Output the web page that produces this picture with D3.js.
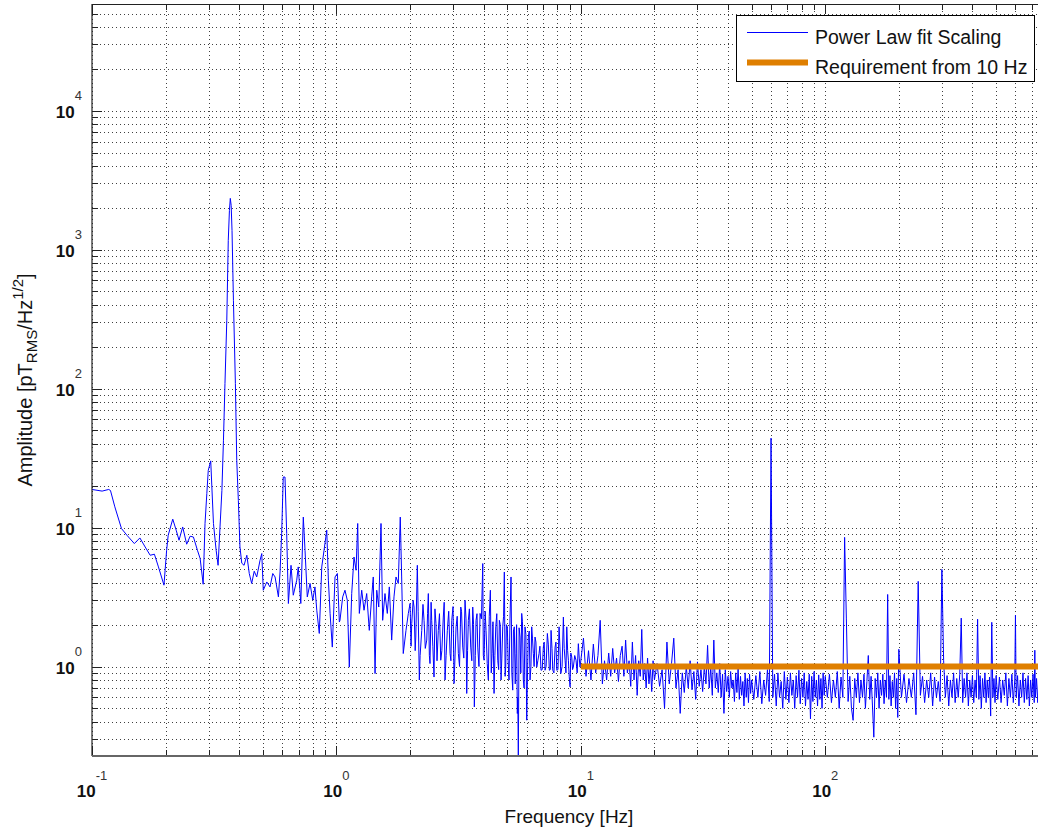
<!DOCTYPE html>
<html>
<head>
<meta charset="utf-8">
<script src="https://cdn.jsdelivr.net/npm/d3@7"></script>
<style>
  body { margin: 0; background: #fff; }
  text { font-family: "Liberation Sans", Arial, Helvetica, sans-serif; }
</style>
</head>
<body>
<div id="chart"></div>
<script>
// spectrum, 0.1 - 1 Hz
var lowFreq = [0.100,0.110,0.117,0.119,0.124,0.132,0.139,0.149,0.157,0.165,0.173,0.180,0.187,0.197,0.202,0.205,
  0.214,0.221,0.227,0.235,0.244,0.252,0.260,0.270,0.277,0.285,0.290,0.295,0.299,0.306,0.314,0.322,0.328,0.334,
  0.340,0.345,0.350,0.356,0.361,0.365,0.368,0.371,0.374,0.379,0.386,0.391,0.397,0.403,0.410,0.419,0.430,0.440,
  0.450,0.461,0.472,0.487,0.495,0.502,0.519,0.535,0.549,0.561,0.579,0.588,0.597,0.606,0.616,0.626,0.636,0.652,
  0.666,0.688,0.698,0.715,0.732,0.744,0.760,0.780,0.800,0.817,0.831,0.851,0.871,0.890,0.913,0.927,0.942,0.962,
  0.987,1.009,1.028];
var lowAmp = [18.8,18.3,18.8,18.5,14.1,9.84,8.80,7.67,8.42,7.25,6.32,6.43,5.21,3.85,6.87,8.80,
  11.5,9.57,8.11,10.1,7.59,8.66,8.55,6.87,5.98,3.91,10.7,17.6,25.8,30.2,10.7,6.87,5.35,10.1,
  18.5,42.5,109,310,1167,1918,2339,2084,1377,432,109,30.5,15.7,7.25,5.54,5.35,6.32,4.67,
  3.96,4.85,4.41,5.82,6.50,3.54,4.06,3.74,4.67,4.41,3.17,4.79,9.05,23.1,23.1,9.05,2.84,5.35,
  3.26,4.18,5.21,2.84,11.9,6.87,3.17,3.96,3.00,3.74,2.54,1.73,5.21,6.87,9.57,4.18,2.41,1.38,
  4.41,4.67,2.09];

// 1 - 10 Hz
var midFreq = [1.034,1.061,1.084,1.108,1.129,1.155,1.180,1.203,1.222,1.241,
  1.269,1.297,1.330,1.363,1.394,1.415,1.439,1.462,1.490,1.522,
  1.546,1.580,1.615,1.646,1.683,1.720,1.753,1.791,1.825,1.849,
  1.877,1.926,1.969,2.001,2.033,2.078,2.112,2.143,2.184,2.234,
  2.283,2.342,2.377,2.415,2.454,2.508,2.555,2.611,2.672,2.737,
  2.782,2.843,2.917,2.964,3.029,3.087,3.154,3.226,3.287,3.359,
  3.413,3.465,3.544,3.612,3.667,3.726,3.786,3.870,3.969,4.018,
  4.094,4.184,4.264,4.333,4.415,4.487,4.571,4.641,4.716,4.792,
  4.864,4.928,5.003,5.083,5.180,5.264,5.343,5.430,5.497,5.549,
  5.638,5.729,5.816,5.910,6.006,6.097,6.196,6.295,6.392,6.494,
  6.600,6.745,6.873,7.024,7.137,7.295,7.433,7.554,7.677,7.845,
  7.971,8.146,8.278,8.483,8.620,8.759,8.893,9.035,9.181,9.318,
  9.558,9.768,9.925];
var midAmp = [2.15,3.17,3.54,3.00,0.99,3.35,6.14,4.93,10.7,2.41,
  3.54,2.54,3.35,1.82,3.17,4.41,0.89,3.54,2.68,10.7,
  2.15,3.35,2.41,3.74,1.55,3.17,4.41,3.96,11.9,4.41,
  1.24,1.82,2.41,2.84,2.04,2.68,1.63,5.35,0.80,1.82,
  2.15,1.55,3.35,1.05,2.15,0.84,2.04,1.82,1.11,2.27,
  0.80,1.82,1.24,2.15,0.755,1.93,1.24,2.68,1.38,3.00,
  0.64,2.15,1.38,2.68,0.512,2.15,1.38,2.41,5.51,1.11,
  1.82,0.80,3.54,1.24,0.64,1.93,1.11,2.15,0.80,1.93,
  4.79,0.99,1.93,0.80,4.41,0.676,1.93,1.24,0.459,0.22,
  1.63,2.41,0.80,1.93,0.411,1.63,0.80,1.93,1.24,1.63,
  0.99,1.24,0.94,1.38,0.94,1.73,0.94,1.82,0.94,1.38,
  0.94,1.93,0.89,2.27,1.11,1.93,1.11,0.713,1.17,0.99,
  1.11,1.46,0.99];

// extra samples inside the dense 2 - 10 Hz band
var midFreq2 = [2.02,2.06,2.10,2.16,2.20,2.26,2.31,2.36,2.40,2.44,2.48,2.53,2.58,2.64,2.70,2.76,2.81,2.88,2.94,3.00,
  3.06,3.12,3.19,3.25,3.32,3.39,3.44,3.50,3.58,3.64,3.70,3.76,3.83,3.92,3.99,4.06,4.14,4.22,4.30,4.37,
  4.45,4.53,4.61,4.68,4.75,4.83,4.90,4.96,5.04,5.13,5.22,5.30,5.39,5.46,5.52,5.59,5.68,5.77,5.86,5.96,
  6.05,6.15,6.25,6.34,6.44,6.55,6.67,6.80,6.95,7.08,7.21,7.36,7.50,7.62,7.76,7.91,8.06,8.21,8.38,8.55,
  8.69,8.83,8.96,9.10,9.25,9.44,9.66,9.85];
var midAmp2 = [1.4,3.0,1.3,2.5,1.2,2.8,1.35,2.4,1.2,2.9,1.4,2.6,1.1,2.4,1.3,2.9,1.2,2.5,1.1,2.7,
  1.25,2.3,1.0,2.5,1.15,2.2,1.3,2.6,1.1,2.0,1.2,2.4,1.0,2.2,1.2,2.5,1.05,2.3,0.9,2.1,
  1.2,2.4,0.95,2.0,1.15,2.3,0.85,2.0,1.1,2.2,0.9,1.8,0.75,2.0,0.6,1.9,0.9,2.1,0.7,1.7,
  0.9,1.8,1.0,1.6,1.0,1.5,1.1,1.4,0.95,1.5,1.0,1.45,0.95,1.35,0.9,1.5,0.95,1.4,1.0,1.35,
  0.9,1.3,0.85,1.25,0.95,1.2,0.9,1.15];

// 10 - 800 Hz, mains harmonics show as spikes
var highFreq = [10.25,10.5,10.75,11,11.25,11.5,11.75,12,12.25,12.5,12.75,13,13.25,13.5,13.75,14,14.25,14.5,14.75,15,
  15.25,15.5,15.75,16,16.25,16.5,16.75,17,17.25,17.5,17.75,18,18.25,18.5,18.75,19,19.25,19.5,19.75,20,
  20.5,21,21.5,22,22.5,23,23.5,24,24.5,25,25.5,26,26.5,27,27.5,28,28.5,29,29.5,30,
  30.5,31,31.5,32,32.5,33,33.5,34,34.5,35,35.5,36,36.5,37,37.5,38,38.5,39,39.5,40,
  40.5,41,41.5,42,42.5,43,43.5,44,44.5,45,45.5,46,46.5,47,47.5,48,48.5,49,49.5,50,
  51,52,53,54,55,56,57,58,59,60,61,62,63,64,65,66,67,68,69,70,
  71,72,73,74,75,76,77,78,79,80,81,82,83,84,85,86,87,88,89,90,
  91,92,93,94,95,96,97,98,99,100,
  102,104,106,108,110,112,114,116,118,120,122,124,126,128,130,132,134,136,138,140,
  142,144,146,148,150,152,154,156,158,160,162,164,166,168,170,172,174,176,178,180,
  182,184,186,188,190,192,194,196,198,200,
  205,210,215,220,225,230,235,240,245,250,255,260,265,270,275,280,285,290,295,300,
  305,310,315,320,325,330,335,340,345,350,355,360,365,370,375,380,385,390,395,400,
  405,410,415,420,425,430,435,440,445,450,455,460,465,470,475,480,485,490,495,500,
  508,516,524,532,540,548,556,564,572,580,588,596,600,604,612,620,628,636,644,652,
  660,668,676,684,692,700,708,716,720,724,732,740,748,756,764,772,780,788,796];
var highAmp = [1.6,0.85,1.3,0.8,1.45,0.9,1.2,2.15,0.75,1.1,0.8,1.25,0.85,1.35,0.9,1.15,0.78,1.2,1.4,0.85,
  1.55,0.9,1.1,0.72,1.5,0.8,1.2,0.62,1.1,0.85,1.85,0.8,1.05,0.7,1.15,0.75,1.0,0.66,1.1,0.8,
  1.05,0.72,0.95,0.5,1.5,0.75,1.05,1.6,0.7,0.95,0.46,0.9,0.65,1.0,0.7,1.1,0.68,0.92,0.58,1.08,
  0.72,0.95,0.66,1.0,0.75,1.42,0.7,0.98,0.62,1.55,0.7,0.9,0.65,1.05,0.6,0.88,0.46,0.95,0.66,0.85,
  0.6,0.92,0.7,0.8,0.56,0.9,0.65,0.98,0.58,0.85,0.62,0.78,0.52,0.9,0.6,0.82,0.55,0.88,0.64,0.8,
  0.58,0.86,0.6,0.92,0.54,0.8,0.62,0.95,0.56,44,0.6,0.88,0.52,0.9,0.6,0.78,0.5,0.92,0.58,0.84,
  0.55,0.9,0.62,0.8,0.5,0.86,0.6,0.94,0.54,0.82,0.6,0.9,0.52,0.78,0.58,0.88,0.42,0.85,0.56,0.92,
  0.6,0.8,0.52,0.87,0.58,0.82,0.5,0.9,0.62,0.85,
  0.6,0.88,0.55,0.8,0.6,0.92,0.5,0.84,0.6,8.5,2.2,0.56,0.85,0.5,0.41,0.82,0.6,0.9,0.55,0.8,
  0.6,0.88,0.5,0.78,1.2,0.58,0.85,0.52,0.31,0.82,0.6,0.9,0.5,0.8,0.62,0.88,0.54,0.8,0.6,3.3,
  0.58,0.86,0.52,0.78,0.6,0.9,0.5,0.82,0.43,1.33,
  0.6,0.88,0.55,0.82,0.6,0.9,0.45,4.1,0.62,0.85,0.55,0.8,0.6,0.9,0.52,0.84,0.6,0.78,0.56,5.0,
  1.1,0.6,0.86,0.52,0.8,0.6,0.9,0.55,0.82,0.6,0.88,2.23,0.55,0.82,0.6,0.9,0.52,0.8,0.6,0.86,
  0.55,0.8,0.6,2.19,0.58,0.86,0.5,0.82,0.6,0.9,0.55,0.8,0.6,0.84,0.44,2.08,0.6,0.82,0.55,0.86,
  0.58,0.84,0.55,0.8,0.62,0.9,0.52,0.82,0.6,0.88,0.55,0.8,2.34,0.6,0.86,0.52,0.8,0.6,0.9,0.55,
  0.82,0.58,0.86,0.52,0.8,0.6,0.88,0.55,1.31,0.6,0.82,0.55,0.86,0.6,0.8,0.55,0.84,0.6,0.82];

// requirement line, flat from 10 Hz
var reqFreq = [10, 800];
var reqAmp = [1, 1];

var xMajor = [0.1, 1, 10, 100];
var xExp = ["-1", "0", "1", "2"];
var yMajor = [1, 10, 100, 1000, 10000];
var yExp = ["0", "1", "2", "3", "4"];

var legendNames = ["Power Law fit Scaling", "Requirement from 10 Hz"];

var W = 1038, H = 834;
var pL = 92, pT = 4, pR = 1046, pB = 756;

var x = d3.scaleLog().domain([0.1, 800]).range([pL, pR]);
var y = d3.scaleLog().domain([0.227, 58600]).range([pB, pT]);

// minor tick values for each decade inside the domain
function minorTicks(scale) {
  var d = scale.domain(), out = [];
  for (var e = Math.floor(Math.log10(d[0])); e <= Math.ceil(Math.log10(d[1])); e++) {
    for (var k = 2; k <= 9; k++) {
      var v = k * Math.pow(10, e);
      if (v >= d[0] && v <= d[1]) out.push(v);
    }
  }
  return out;
}
var xMinor = minorTicks(x);
var yMinor = minorTicks(y);

var svg = d3.select("#chart").append("svg")
  .attr("width", W)
  .attr("height", H);

svg.append("defs").append("clipPath").attr("id", "plotclip")
  .append("rect").attr("x", pL).attr("y", pT).attr("width", pR - pL).attr("height", pB - pT);

// dotted grid
var grid = svg.append("g");
grid.append("g")
  .attr("transform", "translate(0," + pB + ")")
  .call(d3.axisBottom(x).tickValues(xMajor.concat(xMinor)).tickSize(-(pB - pT)).tickFormat(""));
grid.append("g")
  .attr("transform", "translate(" + pL + ",0)")
  .call(d3.axisLeft(y).tickValues(yMajor.concat(yMinor)).tickSize(-(pR - pL)).tickFormat(""));
grid.selectAll(".domain").remove();
grid.selectAll(".tick line")
  .attr("stroke", "#000")
  .attr("stroke-opacity", 0.75)
  .attr("stroke-dasharray", "1,3")
  .attr("shape-rendering", "crispEdges");

// spectrum
var line = d3.line()
  .x(function(d) { return x(d[0]); })
  .y(function(d) { return y(d[1]); });

function pairs(fs, as) {
  return fs.map(function(f, i) { return [f, as[i]]; });
}
var spec = pairs(lowFreq, lowAmp)
  .concat(pairs(midFreq, midAmp))
  .concat(pairs(midFreq2, midAmp2))
  .concat(pairs(highFreq, highAmp))
  .sort(function(a, b) { return a[0] - b[0]; });

var plot = svg.append("g").attr("clip-path", "url(#plotclip)");
plot.append("path")
  .datum(spec)
  .attr("fill", "none")
  .attr("stroke", "#0000ff")
  .attr("stroke-width", 1)
  .attr("stroke-linejoin", "round")
  .attr("d", line);

plot.append("path")
  .datum(pairs(reqFreq, reqAmp))
  .attr("fill", "none")
  .attr("stroke", "#df7f00")
  .attr("stroke-width", 6)
  .attr("d", line);

// axes: ticks pointing inwards
function tickAxis(axis, vals, len, tr) {
  var g = svg.append("g").attr("transform", tr)
    .call(axis.tickValues(vals).tickSize(len).tickSizeOuter(0).tickFormat(""));
  g.select(".domain").remove();
  g.selectAll(".tick line").attr("stroke", "#222").attr("shape-rendering", "crispEdges");
  return g;
}
tickAxis(d3.axisBottom(x), xMajor, -10, "translate(0," + pB + ")");
tickAxis(d3.axisBottom(x), xMinor, -6, "translate(0," + pB + ")");
tickAxis(d3.axisTop(x), xMajor, -10, "translate(0," + pT + ")");
tickAxis(d3.axisTop(x), xMinor, -6, "translate(0," + pT + ")");
tickAxis(d3.axisLeft(y), yMajor, -10, "translate(" + pL + ",0)");
tickAxis(d3.axisLeft(y), yMinor, -6, "translate(" + pL + ",0)");

// frame
svg.append("line").attr("x1", pL).attr("x2", pR).attr("y1", pT).attr("y2", pT)
  .attr("stroke", "#222").attr("stroke-width", 1).attr("shape-rendering", "crispEdges");
svg.append("line").attr("x1", pL).attr("x2", pL).attr("y1", pT).attr("y2", pB)
  .attr("stroke", "#222").attr("stroke-width", 1.2);
svg.append("line").attr("x1", pL).attr("x2", pR).attr("y1", pB).attr("y2", pB)
  .attr("stroke", "#666").attr("stroke-width", 2);

// tick labels 10^n
var xl = svg.append("g").selectAll("text").data(xMajor).enter().append("text")
  .attr("x", function(d) { return x(d); })
  .attr("y", 797)
  .attr("text-anchor", "middle")
  .attr("font-size", 17)
  .attr("fill", "#111");
xl.append("tspan").attr("font-weight", "bold").text("10");
xl.append("tspan").attr("dy", -17).attr("font-size", 13).attr("fill", "#333")
  .text(function(d, i) { return xExp[i]; });

var yl = svg.append("g").selectAll("text").data(yMajor).enter().append("text")
  .attr("x", 82)
  .attr("y", function(d) { return y(d) + 7.5; })
  .attr("text-anchor", "end")
  .attr("font-size", 17)
  .attr("fill", "#111");
yl.append("tspan").attr("font-weight", "bold").text("10");
yl.append("tspan").attr("dy", -18).attr("font-size", 13).attr("fill", "#333")
  .text(function(d, i) { return yExp[i]; });

// axis titles
svg.append("text")
  .attr("x", (pL + pR) / 2)
  .attr("y", 823)
  .attr("text-anchor", "middle")
  .attr("font-size", 19)
  .attr("fill", "#111")
  .text("Frequency [Hz]");

var yt = svg.append("text")
  .attr("transform", "translate(32," + ((pT + pB) / 2) + ") rotate(-90)")
  .attr("text-anchor", "middle")
  .attr("font-size", 20)
  .attr("fill", "#111");
yt.append("tspan").text("Amplitude [pT");
yt.append("tspan").attr("font-size", 15).attr("dy", 5).text("RMS");
yt.append("tspan").attr("dy", -5).text("/Hz");
yt.append("tspan").attr("font-size", 15).attr("dy", -9).text("1/2");
yt.append("tspan").attr("dy", 9).text("]");

// legend
var lg = svg.append("g");
lg.append("rect")
  .attr("x", 736.5).attr("y", 15.5).attr("width", 298).attr("height", 66)
  .attr("fill", "#fff").attr("stroke", "#000").attr("stroke-width", 1);
var lgStroke = ["#0000ff", "#df7f00"];
var lgWidth = [1, 6];
legendNames.forEach(function(name, i) {
  var ly = 32.5 + i * 30;
  lg.append("line")
    .attr("x1", 747).attr("x2", 808).attr("y1", ly).attr("y2", ly)
    .attr("stroke", lgStroke[i]).attr("stroke-width", lgWidth[i]);
  lg.append("text")
    .attr("x", 815).attr("y", ly + 11)
    .attr("font-size", 19.5)
    .attr("fill", "#111")
    .text(name);
});
</script>
</body>
</html>
